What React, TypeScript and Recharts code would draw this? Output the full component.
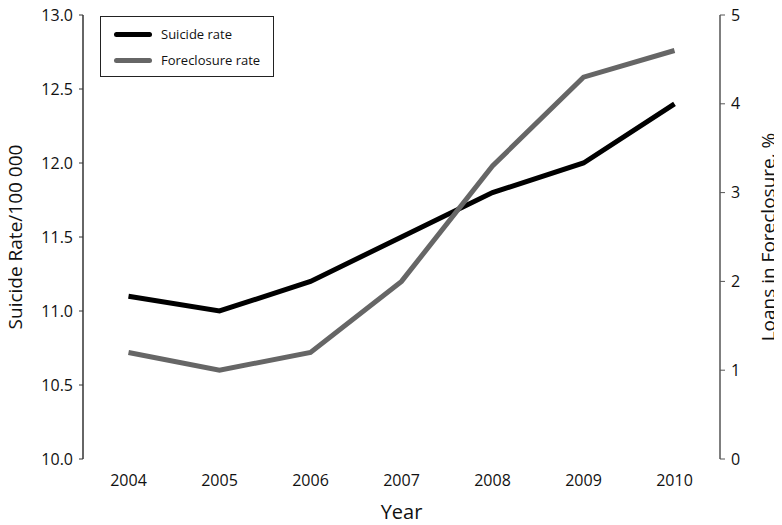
import { LineChart, Line, XAxis, YAxis } from "recharts";

const YEARS = [2004, 2005, 2006, 2007, 2008, 2009, 2010];
const SUICIDE_RATE = [11.1, 11.0, 11.2, 11.5, 11.8, 12.0, 12.4];
const FORECLOSURE_RATE = [1.2, 1.0, 1.2, 2.0, 3.3, 4.3, 4.6];
const LEFT_TICKS = [10, 10.5, 11, 11.5, 12, 12.5, 13];
const RIGHT_TICKS = [0, 1, 2, 3, 4, 5];
// tick marks sit between the years, at band edges
const BAND_EDGES = [2003.5, 2004.5, 2005.5, 2006.5, 2007.5, 2008.5, 2009.5, 2010.5];

const data = YEARS.map((year, i) => ({
  year,
  suicide: SUICIDE_RATE[i],
  foreclosure: FORECLOSURE_RATE[i],
}));

const FONT = "'Open Sans', 'Noto Sans', sans-serif";
const AXIS = "#333";

function LegendBox() {
  const row = (color: string, text: string) => (
    <div style={{ display: "flex", alignItems: "center", height: 26 }}>
      <span style={{ width: 38, height: 5, background: color, borderRadius: 3, marginRight: 9 }} />
      <span>{text}</span>
    </div>
  );
  return (
    <div style={{
      position: "absolute", left: 100, top: 16, boxSizing: "border-box",
      border: "1px solid #222", width: 174, height: 61, padding: "4px 0 4px 13px",
      fontFamily: FONT, fontSize: 13, color: "#111", background: "#fff",
    }}>
      {row("#000", "Suicide rate")}
      {row("#666", "Foreclosure rate")}
    </div>
  );
}

export default function App() {
  return (
    <div style={{ margin: "-8px 0 0 -8px", position: "relative", width: 782, height: 525 }}>
      <LineChart width={782} height={525} data={data}
        margin={{ top: 15, right: 0, left: 0, bottom: 0 }}
        style={{ fontFamily: FONT }}>
        <XAxis xAxisId="edges" dataKey="year" type="number" domain={[2003.5, 2010.5]}
          ticks={BAND_EDGES} tick={false} height={0} tickSize={5}
          axisLine={{ stroke: AXIS, strokeWidth: 1.5 }} tickLine={{ stroke: AXIS }} />
        <XAxis xAxisId="years" dataKey="year" type="number" domain={[2003.5, 2010.5]}
          ticks={YEARS} height={66} axisLine={false} tickLine={false} tickMargin={10}
          tick={{ fill: "#111", fontSize: 16 }}
          label={{ value: "Year", position: "insideBottom", offset: 6, fill: "#111", fontSize: 20 }} />
        <YAxis yAxisId="left" domain={[10, 13]} ticks={LEFT_TICKS} width={83}
          tickFormatter={(v: number) => v.toFixed(1)} tickSize={4} tickMargin={6}
          tick={{ fill: "#111", fontSize: 16 }}
          axisLine={{ stroke: AXIS, strokeWidth: 1.5 }} tickLine={{ stroke: AXIS }}
          label={{ value: "Suicide Rate/100 000", angle: -90, position: "insideLeft", offset: 15, style: { textAnchor: "middle" }, fill: "#111", fontSize: 19 }} />
        <YAxis yAxisId="right" orientation="right" domain={[0, 5]} ticks={RIGHT_TICKS} width={62}
          tickSize={5} tickMargin={6} tick={{ fill: "#111", fontSize: 16 }}
          axisLine={{ stroke: "#555", strokeWidth: 1.5 }} tickLine={{ stroke: "#555" }}
          label={{ value: "Loans in Foreclosure, %", angle: -90, position: "insideRight", offset: 14, style: { textAnchor: "middle" }, fill: "#111", fontSize: 19 }} />
        <Line xAxisId="years" yAxisId="left" dataKey="suicide" stroke="#000" strokeWidth={5}
          dot={false} isAnimationActive={false} />
        <Line xAxisId="years" yAxisId="right" dataKey="foreclosure" stroke="#666" strokeWidth={5}
          dot={false} isAnimationActive={false} />
      </LineChart>
      <LegendBox />
    </div>
  );
}
